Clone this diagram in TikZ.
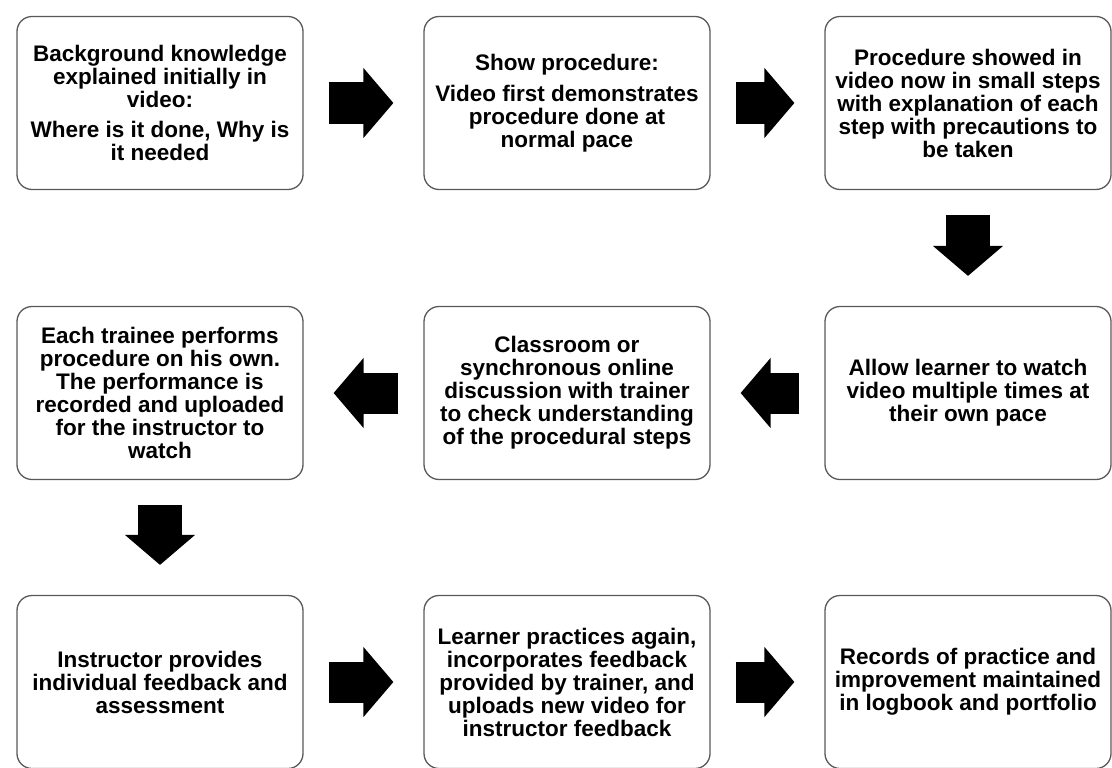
\documentclass[tikz,border=0pt]{standalone}
\usepackage{fontspec}
\setmainfont{Liberation Sans}
\usetikzlibrary{arrows.meta}

\tikzset{
  stepbox/.style={draw=black!65, line width=1.3pt, rounded corners=15pt,
    minimum width=286pt, minimum height=173pt, align=center,
    font=\fontsize{22.5}{23}\selectfont\bfseries},
  fat/.style={line width=41pt, -{Triangle[length=30pt,width=70pt,line width=1.5pt]},
    shorten <=25pt, shorten >=30pt}
}

\begin{document}
\begin{tikzpicture}[x=1pt,y=-1pt]
\useasboundingbox (0,0) rectangle (1112,768);

\node[stepbox] (TL) at (160,103)
{Background knowledge\\explained initially in\\video:\\[7pt]Where is it done, Why is\\it needed};
\node[stepbox] (TM) at (567,103)
{Show procedure:\\[8pt]Video first demonstrates\\procedure done at\\normal pace};
\node[stepbox] (TR) at (968,103)
{Procedure showed in\\video now in small steps\\with explanation of each\\step with precautions to\\be taken};

\node[stepbox] (ML) at (160,393)
{Each trainee performs\\procedure on his own.\\The performance is\\recorded and uploaded\\for the instructor to\\watch};
\node[stepbox] (MM) at (567,393)
{Classroom or\\synchronous online\\discussion with trainer\\to check understanding\\of the procedural steps};
\node[stepbox] (MR) at (968,393)
{Allow learner to watch\\video multiple times at\\their own pace};

\node[stepbox] (BL) at (160,682)
{Instructor provides\\individual feedback and\\assessment};
\node[stepbox] (BM) at (567,682)
{Learner practices again,\\incorporates feedback\\provided by trainer, and\\uploads new video for\\instructor feedback};
\node[stepbox] (BR) at (968,682)
{Records of practice and\\improvement maintained\\in logbook and portfolio};

\draw[fat] (TL) -- (TM);
\draw[fat] (TM) -- (TR);
\draw[fat, line width=44pt] (TR) -- (MR);
\draw[fat] (MR) -- (MM);
\draw[fat] (MM) -- (ML);
\draw[fat, line width=44pt] (ML) -- (BL);
\draw[fat] (BL) -- (BM);
\draw[fat] (BM) -- (BR);
\end{tikzpicture}
\end{document}
